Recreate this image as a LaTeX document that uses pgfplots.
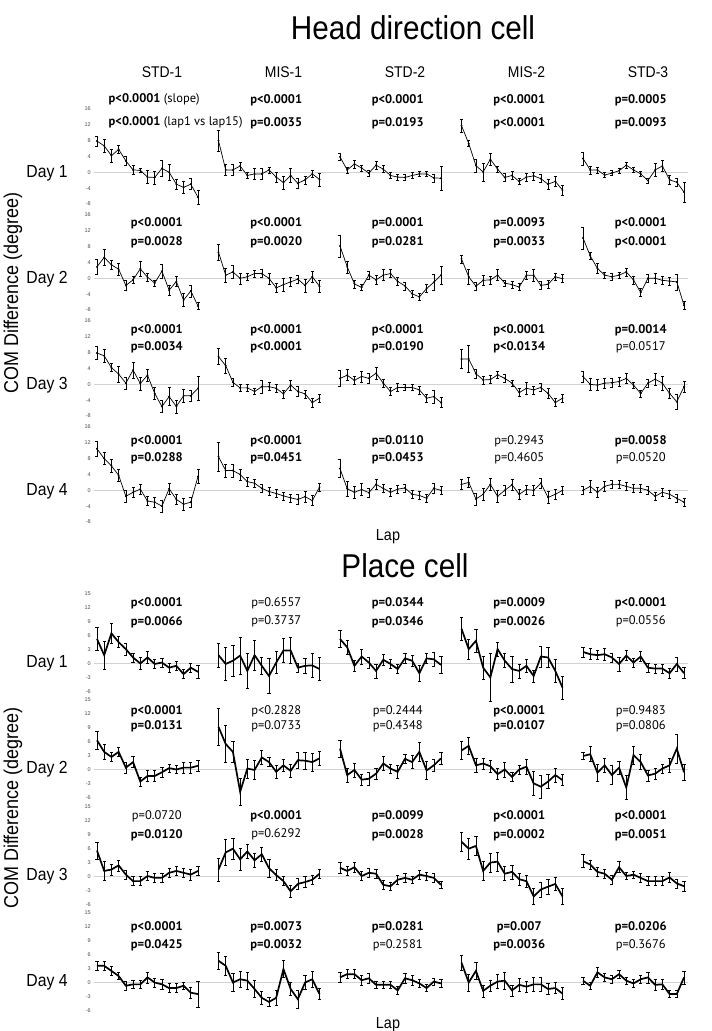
\documentclass[border=0pt]{standalone}
\usepackage{fontspec}
\setmainfont{Liberation Sans}
\newfontfamily\narrow[FakeStretch=0.9]{Liberation Sans}
\newfontfamily\pts{PT Sans}
\usepackage{pgfplots}
\pgfplotsset{compat=1.18}
\newcommand\B[1]{{\bfseries #1}}
\newcommand\fs[1]{\fontsize{#1bp}{#1bp}\selectfont}
\pgfplotsset{
 cellbase/.style={scale only axis, width=106.8bp, xmin=0.6, xmax=15.4,
   axis lines=left, axis line style={draw=none,-}, tick style={draw=none},
   xtick=\empty, ytick=\empty, clip=false,
   yticklabel style={font=\fs{5.5}, text=black!70, inner sep=1bp},
   /pgf/number format/assume math mode=true},
 hd/.style={cellbase, height=95bp, ymin=-8, ymax=16},
 pc/.style={cellbase, height=97.3bp, ymin=-6, ymax=15},
 hdfirst/.style={ytick={-8,-4,0,4,8,12,16}},
 pcfirst/.style={ytick={-6,-3,0,3,6,9,12,15}},
 hdline/.style={black, line width=0.7bp, mark=*, mark size=0.55bp,
   error bars/.cd, y dir=both, y explicit, error bar style={line width=0.55bp, black},
   error mark options={rotate=90, black, line width=0.55bp, mark size=1.5bp}},
 pcline/.style={black, line width=1.7bp, mark=none,
   error bars/.cd, y dir=both, y explicit, error bar style={line width=0.6bp, black},
   error mark options={rotate=90, black, line width=0.6bp, mark size=1.6bp}},
}
\tikzset{pv/.style={font=\pts\fs{12.5}, inner sep=0pt},
 grid0/.style={gray!35, line width=0.6bp},
 lab/.style={font=\narrow\fs{#1}}}
\newcommand\cell[8]{%
 \ifnum#2=0 \def\px{9.3}\else\def\px{9}\fi
 \begin{axis}[#1, at={(94.1bp+121.5bp*#2,#3bp)}, anchor=south west, #4]
  \draw[grid0] (axis cs:0.6,0) -- ++(#5bp,0pt);
  \addplot[#1line] table[row sep=\\, header=false, x index=0, y index=1, y error index=2] {#6};
  \node[pv] at (axis cs:\px,\ya) {#7};
  \node[pv] at (axis cs:\px,\yb) {#8};
 \end{axis}}
\begin{document}
\begin{tikzpicture}
\useasboundingbox (0bp,0bp) rectangle (712bp,1031bp);
% ---------- titles ----------
\node[lab=33] at (413bp,1003bp) {Head direction cell};
\foreach \t [count=\i from 0] in {STD-1,MIS-1,STD-2,MIS-2,STD-3}
  \node[lab=15.5] at (162bp+121.5bp*\i,959bp) {\t};
\node[lab=33] at (405bp,465bp) {Place cell};
\node[lab=16] at (388bp,494bp) {Lap};
\node[lab=16, anchor=base] at (388bp,3bp) {Lap};
\node[lab=20, rotate=90] at (13bp,738bp) {COM Difference (degree)};
\node[lab=20, rotate=90] at (13bp,223bp) {COM Difference (degree)};
\foreach \y [count=\i] in {858,752,646,540} \node[lab=17.5] at (47bp,\y bp) {Day \i};
\foreach \y [count=\i] in {367.5,261.5,154.5,48.5} \node[lab=17.5] at (47bp,\y bp) {Day \i};
% ================= HEAD DIRECTION =================
% ---- Day 1
\def\ya{18.3}\def\yb{12.5}
\begin{axis}[hd, hdfirst, at={(94.1bp,827bp)}, anchor=south west]
 \draw[grid0] (axis cs:0.6,0) -- ++(121.5bp,0pt);
 \addplot[hdline] table[row sep=\\, header=false, x index=0, y index=1, y error index=2] {1 7.9 1.2\\2 6.7 1.6\\3 4.2 1.6\\4 5.8 1.0\\5 2.9 1.2\\6 0.6 1.2\\7 0.5 0.6\\8 -1.2 1.6\\9 -1.3 1.6\\10 1.0 2.0\\11 0.0 2.0\\12 -3.0 1.3\\13 -3.8 1.6\\14 -3.0 1.4\\15 -6.3 1.8\\};
 \node[pv, anchor=west] at (axis cs:2.6,18.3) {\B{p<0.0001} (slope)};
 \node[pv, anchor=west] at (axis cs:2.6,12.5) {\B{p<0.0001} (lap1 vs lap15)};
\end{axis}
\cell{hd}{1}{827}{}{121.5}{1 8.0 2.7\\2 0.6 1.4\\3 0.6 1.4\\4 1.6 1.0\\5 -0.8 0.8\\6 -0.4 1.3\\7 -0.4 1.3\\8 0.6 0.8\\9 -1.2 1.3\\10 -2.6 1.6\\11 -0.8 1.8\\12 -2.8 1.2\\13 -1.9 1.0\\14 -0.4 0.8\\15 -1.8 1.6\\}{\B{p<0.0001}}{\B{p=0.0035}}
\cell{hd}{2}{827}{}{121.5}{1 3.9 0.8\\2 0.6 0.8\\3 2.1 1.0\\4 1.1 0.8\\5 -0.2 0.8\\6 1.8 1.0\\7 0.8 0.9\\8 -0.8 0.8\\9 -1.2 0.8\\10 -1.3 0.8\\11 -0.8 0.7\\12 -0.4 0.6\\13 -0.4 0.6\\14 -1.4 1.0\\15 -1.5 3.0\\}{\B{p<0.0001}}{\B{p=0.0193}}
\cell{hd}{3}{827}{}{121.5}{1 11.8 1.6\\2 7.3 0.8\\3 1.7 1.6\\4 0.1 2.3\\5 3.3 1.6\\6 0.8 0.8\\7 -1.3 1.0\\8 -0.8 1.0\\9 -2.3 0.8\\10 -1.2 1.0\\11 -0.9 1.0\\12 -1.6 1.0\\13 -3.0 1.3\\14 -2.3 1.2\\15 -4.5 1.2\\}{\B{p<0.0001}}{\B{p<0.0001}}
\cell{hd}{4}{827}{}{107.5}{1 3.5 1.6\\2 0.6 1.0\\3 0.6 0.8\\4 -0.7 0.6\\5 -0.2 0.6\\6 0.4 0.6\\7 1.8 0.8\\8 0.6 0.6\\9 -0.4 0.6\\10 -2.1 0.7\\11 0.6 1.6\\12 1.6 1.4\\13 -1.9 1.1\\14 -2.5 1.0\\15 -5.0 2.6\\}{\B{p=0.0005}}{\B{p=0.0093}}
% ---- Day 2
\def\ya{14.0}\def\yb{9.2}
\cell{hd}{0}{721}{hdfirst}{121.5}{1 2.9 2.0\\2 5.3 2.0\\3 3.4 1.2\\4 2.3 1.6\\5 -1.8 1.2\\6 -0.4 0.8\\7 2.4 2.0\\8 0.3 1.0\\9 -1.2 0.8\\10 1.8 1.8\\11 -3.0 1.2\\12 -0.8 1.2\\13 -5.5 1.6\\14 -3.2 1.5\\15 -7.0 0.9\\}{\B{p<0.0001}}{\B{p=0.0028}}
\cell{hd}{1}{721}{}{121.5}{1 6.6 2.0\\2 0.8 1.8\\3 1.6 1.6\\4 0.0 1.4\\5 0.4 1.0\\6 1.2 0.9\\7 1.2 1.0\\8 0.0 1.4\\9 -2.4 1.2\\10 -1.6 1.6\\11 -0.9 1.2\\12 -0.2 1.0\\13 -1.8 1.6\\14 0.4 1.4\\15 -2.0 1.5\\}{\B{p<0.0001}}{\B{p=0.0020}}
\cell{hd}{2}{721}{}{121.5}{1 8.2 2.8\\2 2.9 1.5\\3 -1.4 1.0\\4 -2.3 0.8\\5 0.8 1.0\\6 -0.4 1.2\\7 0.8 1.4\\8 1.2 1.0\\9 -0.8 1.0\\10 -1.9 1.0\\11 -3.9 0.8\\12 -4.7 0.9\\13 -2.6 1.0\\14 -1.0 2.0\\15 0.8 2.2\\}{\B{p=0.0001}}{\B{p=0.0281}}
\cell{hd}{3}{721}{}{121.5}{1 4.9 1.0\\2 0.4 1.8\\3 -2.0 1.0\\4 -0.5 1.2\\5 -0.4 1.0\\6 0.8 1.4\\7 -1.2 0.8\\8 -1.6 0.8\\9 -2.2 0.9\\10 0.8 1.0\\11 0.8 1.6\\12 -1.8 1.0\\13 -1.5 1.0\\14 0.4 1.0\\15 -0.1 1.0\\}{\B{p=0.0093}}{\B{p=0.0033}}
\cell{hd}{4}{721}{}{107.5}{1 10.2 2.8\\2 5.7 0.8\\3 2.5 1.2\\4 0.8 0.8\\5 0.4 0.8\\6 0.8 0.8\\7 1.6 1.0\\8 -0.4 1.0\\9 -3.6 1.0\\10 0.0 1.0\\11 0.0 1.2\\12 -0.5 1.0\\13 -0.7 1.0\\14 -0.9 2.0\\15 -6.8 1.0\\}{\B{p<0.0001}}{\B{p<0.0001}}
% ---- Day 3
\def\ya{13.7}\def\yb{9.4}
\cell{hd}{0}{615}{hdfirst}{121.5}{1 7.9 1.6\\2 7.2 1.6\\3 4.2 1.0\\4 2.6 2.0\\5 0.3 1.6\\6 3.6 2.0\\7 0.2 1.6\\8 2.3 1.6\\9 -2.3 1.6\\10 -5.6 1.5\\11 -3.1 2.3\\12 -5.6 1.6\\13 -2.9 1.6\\14 -2.9 1.4\\15 -1.0 3.0\\}{\B{p<0.0001}}{\B{p=0.0034}}
\cell{hd}{1}{615}{}{121.5}{1 7.0 2.0\\2 4.7 2.0\\3 0.5 1.0\\4 -0.9 0.8\\5 -0.9 0.8\\6 -1.8 0.8\\7 -0.6 1.6\\8 -0.6 1.0\\9 -1.0 1.0\\10 -2.4 1.0\\11 -0.2 1.2\\12 -1.8 1.2\\13 -2.4 1.0\\14 -4.6 1.2\\15 -3.5 1.0\\}{\B{p<0.0001}}{\B{p<0.0001}}
\cell{hd}{2}{615}{}{121.5}{1 1.5 2.0\\2 2.3 1.4\\3 1.0 1.0\\4 2.0 1.4\\5 1.5 1.2\\6 2.8 1.6\\7 0.3 1.0\\8 -1.8 1.0\\9 -0.8 1.0\\10 -0.8 0.8\\11 -0.8 0.8\\12 -1.4 1.0\\13 -3.5 1.0\\14 -3.1 1.6\\15 -4.6 1.3\\}{\B{p<0.0001}}{\B{p=0.0190}}
\cell{hd}{3}{615}{}{121.5}{1 6.4 2.4\\2 6.4 3.4\\3 2.7 1.1\\4 1.1 1.0\\5 1.2 1.0\\6 2.4 0.8\\7 1.5 1.0\\8 0.3 0.8\\9 -2.1 1.0\\10 -1.0 1.4\\11 -1.4 1.0\\12 -0.8 1.0\\13 -2.3 1.2\\14 -4.6 1.0\\15 -3.5 1.0\\}{\B{p<0.0001}}{\B{p<0.0134}}
\cell{hd}{4}{615}{}{107.5}{1 2.0 1.4\\2 0.0 1.6\\3 -0.2 1.4\\4 0.3 1.2\\5 0.4 1.1\\6 0.7 1.2\\7 1.5 1.3\\8 -0.2 0.8\\9 -2.3 0.9\\10 0.3 1.0\\11 1.3 1.6\\12 0.3 1.8\\13 -2.3 1.2\\14 -4.4 1.8\\15 -0.6 1.4\\}{\B{p=0.0014}}{p=0.0517}
% ---- Day 4
\def\ya{12.5}\def\yb{8.2}
\cell{hd}{0}{509}{hdfirst}{121.5}{1 10.5 1.9\\2 8.0 1.5\\3 6.2 1.6\\4 3.8 1.5\\5 -1.5 1.6\\6 -0.5 1.2\\7 0.3 1.3\\8 -2.7 1.2\\9 -3.0 1.2\\10 -4.0 1.5\\11 0.4 1.5\\12 -2.3 1.3\\13 -3.5 1.5\\14 -3.0 1.3\\15 3.5 1.8\\}{\B{p<0.0001}}{\B{p=0.0288}}
\cell{hd}{1}{509}{}{121.5}{1 8.5 3.6\\2 5.0 1.6\\3 5.0 1.6\\4 4.0 1.4\\5 2.2 1.2\\6 1.8 1.0\\7 0.5 1.0\\8 -0.3 1.0\\9 -0.8 1.0\\10 -1.4 1.0\\11 -1.9 1.0\\12 -2.3 1.3\\13 -1.6 1.4\\14 -2.6 1.3\\15 0.8 1.0\\}{\B{p<0.0001}}{\B{p=0.0451}}
\cell{hd}{2}{509}{}{121.5}{1 5.5 2.3\\2 0.4 2.0\\3 -0.5 1.5\\4 0.2 1.5\\5 -0.6 1.2\\6 1.5 1.2\\7 0.5 1.1\\8 -0.5 1.0\\9 0.3 1.0\\10 0.6 1.0\\11 -1.0 1.0\\12 -1.3 1.0\\13 -2.0 1.0\\14 0.5 1.2\\15 0.0 1.0\\}{\B{p=0.0110}}{\B{p=0.0453}}
\cell{hd}{3}{509}{}{121.5}{1 1.5 1.2\\2 2.0 1.2\\3 -2.2 1.5\\4 -1.0 1.5\\5 1.5 1.5\\6 -1.5 1.5\\7 0.0 1.2\\8 1.4 1.5\\9 -1.0 1.2\\10 0.2 1.2\\11 0.0 1.2\\12 1.8 1.2\\13 -1.8 1.5\\14 -1.0 1.2\\15 0.0 1.0\\}{p=0.2943}{p=0.4605}
\cell{hd}{4}{509}{}{107.5}{1 0.0 1.0\\2 1.0 1.5\\3 -0.5 1.2\\4 1.0 1.2\\5 1.5 1.0\\6 1.5 1.0\\7 1.0 1.0\\8 0.5 1.0\\9 0.5 1.0\\10 0.0 1.0\\11 -1.5 1.0\\12 -0.5 1.0\\13 -1.0 1.0\\14 -2.0 1.0\\15 -3.0 1.0\\}{\B{p=0.0058}}{p=0.0520}
% ================= PLACE CELL =================
% ---- Day 1
\def\ya{13}\def\yb{9}
\cell{pc}{0}{339.7}{pcfirst}{121.5}{1 5.3 2.5\\2 1.8 3.0\\3 6.5 2.2\\4 4.6 1.2\\5 3.1 1.3\\6 1.3 1.0\\7 0.0 1.3\\8 1.3 1.3\\9 -0.1 1.0\\10 0.2 1.0\\11 -0.9 0.9\\12 -0.5 1.0\\13 -2.3 1.0\\14 -0.9 1.0\\15 -1.8 1.4\\}{\B{p<0.0001}}{\B{p=0.0066}}
\cell{pc}{1}{339.7}{}{121.5}{1 1.8 2.6\\2 -0.1 3.6\\3 0.6 3.3\\4 1.7 4.0\\5 -1.6 3.8\\6 1.8 3.2\\7 -0.5 1.8\\8 -2.7 3.8\\9 0.2 2.4\\10 2.8 2.6\\11 2.8 2.8\\12 -0.9 1.0\\13 -0.5 1.6\\14 -0.4 2.5\\15 -1.2 2.5\\}{p=0.6557}{p=0.3737}
\cell{pc}{2}{339.7}{}{121.5}{1 5.3 1.8\\2 3.5 1.5\\3 -0.5 1.2\\4 1.5 1.6\\5 0.2 1.2\\6 -1.6 1.5\\7 0.8 1.2\\8 -0.1 1.0\\9 -1.2 1.0\\10 1.1 1.0\\11 0.6 1.2\\12 -2.1 1.8\\13 1.1 1.0\\14 0.9 1.5\\15 -0.3 1.8\\}{\B{p=0.0344}}{\B{p=0.0346}}
\cell{pc}{3}{339.7}{}{121.5}{1 7.5 2.5\\2 3.1 2.2\\3 4.9 2.5\\4 -0.9 2.5\\5 -3.0 5.2\\6 3.1 1.5\\7 0.6 1.5\\8 -1.2 2.8\\9 -1.6 1.5\\10 -0.5 1.5\\11 -2.7 1.3\\12 1.5 2.3\\13 1.3 2.2\\14 -1.6 2.5\\15 -5.2 2.5\\}{\B{p=0.0009}}{\B{p=0.0026}}
\cell{pc}{4}{339.7}{}{107.5}{1 2.5 1.1\\2 2.0 1.2\\3 1.8 1.0\\4 2.0 1.3\\5 1.3 1.0\\6 -0.1 1.5\\7 1.7 1.1\\8 0.2 1.0\\9 1.5 1.1\\10 -0.9 1.0\\11 -1.1 1.0\\12 -1.1 1.0\\13 -2.1 1.0\\14 -0.1 1.5\\15 -2.1 1.2\\}{\B{p<0.0001}}{p=0.0556}
% ---- Day 2
\def\ya{12.6}\def\yb{9.4}
\cell{pc}{0}{233.7}{pcfirst}{121.5}{1 6.3 1.9\\2 3.8 1.6\\3 2.7 1.0\\4 3.8 1.0\\5 0.4 1.2\\6 1.6 1.2\\7 -2.6 1.0\\8 -1.4 1.2\\9 -1.4 1.2\\10 -0.6 1.0\\11 0.3 0.8\\12 0.0 0.8\\13 0.4 1.2\\14 0.4 1.2\\15 0.8 1.2\\}{\B{p<0.0001}}{\B{p=0.0131}}
\cell{pc}{1}{233.7}{}{121.5}{1 9.2 4.0\\2 5.5 4.0\\3 3.8 2.3\\4 -4.8 3.0\\5 0.2 2.0\\6 -0.1 2.0\\7 2.6 1.5\\8 1.6 1.0\\9 -0.5 1.4\\10 0.9 1.3\\11 -0.3 1.4\\12 2.0 1.8\\13 1.9 1.8\\14 1.6 2.0\\15 2.4 1.6\\}{p<0.2828}{p=0.0733}
\cell{pc}{2}{233.7}{}{121.5}{1 4.5 1.8\\2 -1.2 1.5\\3 -0.1 1.5\\4 -2.2 1.2\\5 -2.0 1.5\\6 -0.9 1.2\\7 1.3 1.5\\8 0.2 1.0\\9 -0.5 1.4\\10 2.3 1.0\\11 1.6 1.4\\12 3.8 2.1\\13 -0.2 2.0\\14 0.9 1.3\\15 2.4 1.3\\}{p=0.2444}{p=0.4348}
\cell{pc}{3}{233.7}{}{121.5}{1 4.1 2.0\\2 5.1 1.8\\3 0.9 1.5\\4 1.3 1.2\\5 0.7 1.3\\6 -1.0 1.2\\7 0.0 1.6\\8 -1.6 1.0\\9 0.0 1.0\\10 0.6 1.7\\11 -3.0 2.6\\12 -3.7 2.5\\13 -2.6 1.5\\14 -1.2 1.5\\15 -2.3 1.2\\}{\B{p<0.0001}}{\B{p=0.0107}}
\cell{pc}{4}{233.7}{}{107.5}{1 2.9 0.8\\2 3.3 1.6\\3 -0.7 1.8\\4 0.9 1.5\\5 -1.2 2.0\\6 0.4 1.4\\7 -3.9 2.6\\8 3.1 2.0\\9 1.6 1.6\\10 -1.3 1.2\\11 -0.9 1.2\\12 0.2 1.0\\13 0.9 1.6\\14 4.5 3.2\\15 -0.6 1.8\\}{p=0.9483}{p=0.0806}
% ---- Day 3
\def\ya{13}\def\yb{9}
\cell{pc}{0}{126.7}{pcfirst}{121.5}{1 5.6 1.8\\2 1.2 2.0\\3 1.5 1.2\\4 2.4 1.2\\5 0.4 1.0\\6 -1.0 1.0\\7 -1.0 1.0\\8 0.1 1.0\\9 -0.3 1.0\\10 -0.3 1.0\\11 0.8 1.0\\12 1.2 1.0\\13 0.8 1.0\\14 0.4 1.2\\15 1.2 1.0\\}{p=0.0720}{\B{p=0.0120}}
\cell{pc}{1}{126.7}{}{121.5}{1 1.5 2.5\\2 5.2 2.8\\3 6.0 2.3\\4 3.7 2.4\\5 5.4 1.5\\6 3.5 1.5\\7 4.8 1.5\\8 1.8 2.0\\9 0.3 1.2\\10 -1.0 1.0\\11 -3.2 1.2\\12 -1.6 1.2\\13 -1.2 1.2\\14 -0.7 1.0\\15 0.6 1.0\\}{\B{p<0.0001}}{p=0.6292}
\cell{pc}{2}{126.7}{}{121.5}{1 1.9 1.2\\2 1.2 1.0\\3 2.0 1.0\\4 0.1 1.0\\5 0.8 1.0\\6 0.6 0.9\\7 -1.8 1.0\\8 -2.1 0.8\\9 -0.7 1.0\\10 -0.3 1.0\\11 -0.7 0.8\\12 0.4 1.0\\13 0.1 0.9\\14 -0.3 1.0\\15 -1.8 0.8\\}{\B{p=0.0099}}{\B{p=0.0028}}
\cell{pc}{3}{126.7}{}{121.5}{1 7.5 2.0\\2 6.0 2.3\\3 6.6 2.0\\4 1.2 2.0\\5 3.0 2.0\\6 3.2 2.0\\7 0.6 1.5\\8 1.0 1.5\\9 -0.6 1.3\\10 -1.0 1.3\\11 -4.3 1.8\\12 -2.8 1.6\\13 -2.2 1.6\\14 -1.6 1.4\\15 -4.3 1.8\\}{\B{p<0.0001}}{\B{p=0.0002}}
\cell{pc}{4}{126.7}{}{107.5}{1 3.3 1.4\\2 2.6 1.0\\3 1.0 1.0\\4 0.6 1.0\\5 -0.7 1.0\\6 2.0 1.2\\7 0.1 0.8\\8 0.4 0.8\\9 -0.3 1.0\\10 -1.0 1.0\\11 -1.0 1.0\\12 -1.0 1.0\\13 -0.2 1.0\\14 -1.5 1.0\\15 -2.1 1.0\\}{\B{p<0.0001}}{\B{p=0.0051}}
% ---- Day 4
\def\ya{12}\def\yb{8}
\cell{pc}{0}{20.7}{pcfirst}{121.5}{1 3.6 1.0\\2 3.6 1.0\\3 2.5 1.0\\4 1.4 0.8\\5 -0.7 1.0\\6 -0.4 0.8\\7 -0.4 0.8\\8 1.1 1.2\\9 0.0 1.0\\10 -0.4 1.0\\11 -1.2 1.0\\12 -1.2 1.0\\13 -0.7 0.8\\14 -2.2 1.2\\15 -2.5 2.8\\}{\B{p<0.0001}}{\B{p=0.0425}}
\cell{pc}{1}{20.7}{}{121.5}{1 4.7 1.8\\2 3.6 2.0\\3 0.0 2.0\\4 0.7 1.8\\5 0.4 1.8\\6 -1.4 1.8\\7 -3.3 1.5\\8 -4.2 1.0\\9 -3.3 1.6\\10 2.9 1.8\\11 -1.4 1.4\\12 -3.6 2.0\\13 0.0 1.5\\14 0.7 1.8\\15 -2.5 1.2\\}{\B{p=0.0073}}{\B{p=0.0032}}
\cell{pc}{2}{20.7}{}{121.5}{1 1.1 1.0\\2 1.8 1.0\\3 1.8 1.0\\4 0.5 1.0\\5 0.9 1.0\\6 -0.5 0.8\\7 -0.5 0.8\\8 -0.5 0.8\\9 -1.7 0.8\\10 0.9 1.0\\11 0.5 1.0\\12 -0.2 0.8\\13 -1.2 0.8\\14 0.2 0.8\\15 -0.2 0.8\\}{\B{p=0.0281}}{p=0.2581}
\cell{pc}{3}{20.7}{}{121.5}{1 4.3 1.6\\2 0.0 1.8\\3 2.5 1.8\\4 -1.8 1.3\\5 -0.7 1.2\\6 0.2 1.5\\7 0.4 1.8\\8 -1.7 1.2\\9 -0.5 1.5\\10 -0.9 1.2\\11 -0.4 1.5\\12 -0.4 1.5\\13 -1.4 1.2\\14 -1.2 1.2\\15 -2.4 1.3\\}{\B{p=0.007}}{\B{p=0.0036}}
\cell{pc}{4}{20.7}{}{107.5}{1 0.4 0.8\\2 -0.7 0.8\\3 2.2 1.0\\4 1.1 0.8\\5 0.7 0.8\\6 1.8 0.8\\7 0.4 0.8\\8 -0.2 0.8\\9 0.7 0.8\\10 1.1 1.2\\11 -0.5 1.2\\12 -0.4 1.0\\13 -2.5 0.8\\14 -2.5 0.8\\15 1.1 1.4\\}{\B{p=0.0206}}{p=0.3676}
\end{tikzpicture}
\end{document}
